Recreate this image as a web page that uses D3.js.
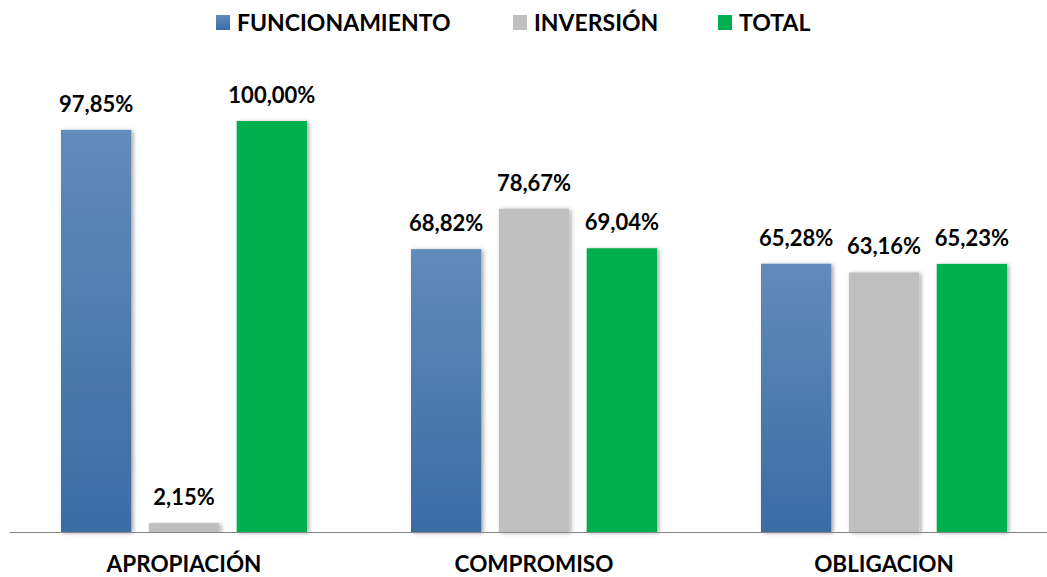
<!DOCTYPE html>
<html><head><meta charset="utf-8">
<script src="https://cdn.jsdelivr.net/npm/d3@7"></script>
<style>body{margin:0;background:#fff}svg{display:block}text{font-family:Lato,"Open Sans",sans-serif;font-weight:700;fill:#000}</style>
</head><body><svg id="c" width="1047" height="577"></svg>
<script>
const categories = ["APROPIACIÓN","COMPROMISO","OBLIGACION"];
const seriesNames = ["FUNCIONAMIENTO","INVERSIÓN","TOTAL"];
const funcionamiento = [97.85, 68.82, 65.28];
const inversion = [2.15, 78.67, 63.16];
const total = [100.00, 69.04, 65.23];
const seriesValues = [funcionamiento, inversion, total];

const svg = d3.select("#c");
const defs = svg.append("defs");
const g1 = defs.append("linearGradient").attr("id","gblue").attr("x1",0).attr("y1",0).attr("x2",0).attr("y2",1);
g1.append("stop").attr("offset","0%").attr("stop-color","#628bba");
g1.append("stop").attr("offset","100%").attr("stop-color","#3a6ca4");
const f = defs.append("filter").attr("id","sh").attr("x","-20%").attr("y","-5%").attr("width","150%").attr("height","115%");
f.append("feDropShadow").attr("dx",2).attr("dy",1).attr("stdDeviation",2).attr("flood-color","#000").attr("flood-opacity",0.35);
const fills = ["url(#gblue)","#bfbfbf","#00b050"];

const baseY = 532;
const y = d3.scaleLinear().domain([0,100]).range([baseY, 121]);
const x0 = d3.scaleBand().domain(categories).range([9, 1059]).paddingInner(0).paddingOuter(0);
const x1 = d3.scaleBand().domain(seriesNames).range([52, 350-52]).paddingInner(0.2).paddingOuter(0);

const fmt = v => d3.format(".2f")(v).replace(".", ",") + "%";

const groups = svg.append("g").selectAll("g").data(categories).join("g")
  .attr("transform", c => `translate(${x0(c)},0)`);

groups.each(function(c, ci){
  const gg = d3.select(this);
  seriesNames.forEach((s, si) => {
    const v = seriesValues[si][ci];
    gg.append("rect").attr("x", x1(s)).attr("width", x1.bandwidth())
      .attr("y", y(v)).attr("height", baseY - y(v))
      .attr("fill", fills[si]).attr("filter","url(#sh)");
    gg.append("text").attr("x", x1(s) + x1.bandwidth()/2).attr("y", y(v) - 18)
      .attr("text-anchor","middle").attr("font-size", 22).text(fmt(v));
  });
});

// axis
const ax = svg.append("g").attr("transform",`translate(0,${baseY})`)
  .call(d3.axisBottom(x0).tickSize(0).tickPadding(24));
ax.select(".domain").attr("stroke","#868686").attr("stroke-width",1.2);
ax.selectAll(".tick text").attr("font-size",22.5).attr("font-family","Lato, sans-serif").attr("font-weight",700).attr("fill","#000");

// legend
const legX = [216, 513, 718];
const leg = svg.append("g");
seriesNames.forEach((s, i) => {
  leg.append("rect").attr("x", legX[i]).attr("y", 15).attr("width", 14).attr("height", 15).attr("fill", fills[i]);
  leg.append("text").attr("x", legX[i] + 21).attr("y", 31).attr("font-size", 23).text(s);
});
</script></body></html>
